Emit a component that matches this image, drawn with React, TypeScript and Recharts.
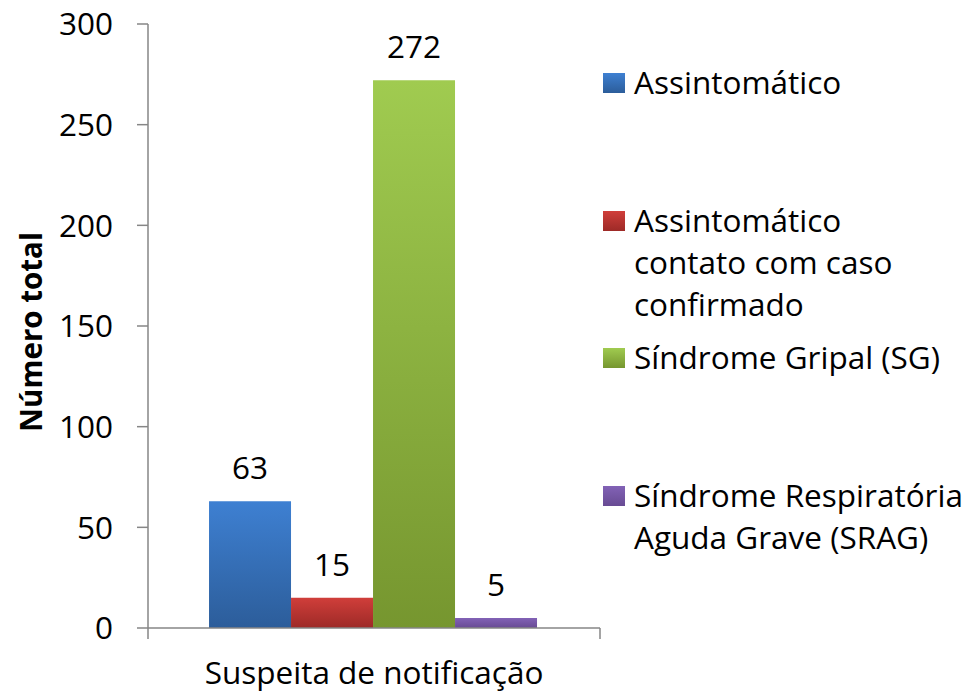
import React from 'react';
import { BarChart, Bar, XAxis, YAxis, Legend, LabelList } from 'recharts';

const categories = ['Suspeita de notificação'];
const assintomatico = [63];
const assintomaticoContato = [15];
const sindromeGripal = [272];
const srag = [5];
const seriesNames = [
  'Assintomático',
  'Assintomático contato com caso confirmado',
  'Síndrome Gripal (SG)',
  'Síndrome Respiratória Aguda Grave (SRAG)',
];
const legendLines = [
  ['Assintomático'],
  ['Assintomático', 'contato com caso', 'confirmado'],
  ['Síndrome Gripal (SG)'],
  ['Síndrome Respiratória', 'Aguda Grave (SRAG)'],
];
const yTicks = [0, 50, 100, 150, 200, 250, 300];
const yTitle = 'Número total';

const data = categories.map((c, i) => ({
  category: c,
  a: assintomatico[i],
  b: assintomaticoContato[i],
  c: sindromeGripal[i],
  d: srag[i],
}));

const gradients = [
  { id: 'gBlue', top: '#3e80d2', bottom: '#2c5d9a' },
  { id: 'gRed', top: '#d03e3a', bottom: '#9d2a27' },
  { id: 'gGreen', top: '#a0cb50', bottom: '#76962f' },
  { id: 'gPurple', top: '#8262b6', bottom: '#684b93' },
];
const keys = ['a', 'b', 'c', 'd'];

const FONT = "'Open Sans', sans-serif";
const FS = 31.5;
const AXIS = '#868686';
const X_TICK_MARGIN = 34;
const X_TICK_LEN = 11;

const YTitle = (props: any) => {
  const vb = props.viewBox || {};
  const cx = vb.x + 30;
  const cy = vb.y + vb.height / 2 + 6;
  return (
    <text
      x={cx}
      y={cy}
      transform={`rotate(-90 ${cx} ${cy})`}
      textAnchor="middle"
      dominantBaseline="central"
      fontFamily={FONT}
      fontWeight={700}
      fontSize={29.5}
      fill="#000"
    >
      {yTitle}
    </text>
  );
};

const CatTick = (props: any) => {
  const { x, y, payload } = props;
  const half = payload && payload.offset ? payload.offset : 0;
  const axisY = y - X_TICK_MARGIN;
  return (
    <g>
      <line x1={x - half} x2={x - half} y1={axisY} y2={axisY + X_TICK_LEN} stroke={AXIS} strokeWidth={1.5} />
      <line x1={x + half} x2={x + half} y1={axisY} y2={axisY + X_TICK_LEN} stroke={AXIS} strokeWidth={1.5} />
      <text x={x} y={y} dy="0.71em" textAnchor="middle" fill="#000" fontSize={FS} fontFamily={FONT}>
        {payload.value}
      </text>
    </g>
  );
};

const LegendContent = () => (
  <div style={{ fontFamily: FONT, fontSize: FS, color: '#000' }}>
    {legendLines.map((lines, i) => (
      <div key={i} style={{ display: 'flex', height: 137.7, alignItems: 'flex-start' }}>
        <div
          style={{
            width: 22,
            height: 20,
            marginTop: 12,
            marginRight: 9,
            flex: '0 0 auto',
            background: `linear-gradient(${gradients[i].top}, ${gradients[i].bottom})`,
          }}
        />
        <div style={{ lineHeight: '42px', whiteSpace: 'nowrap' }}>
          {lines.map((l, j) => (
            <div key={j}>{l}</div>
          ))}
        </div>
      </div>
    ))}
  </div>
);

export default function App() {
  return (
    <div style={{ position: 'absolute', left: 0, top: 0, width: 973, height: 692, background: '#fff', fontFamily: FONT }}>
      <BarChart
        width={973}
        height={692}
        data={data}
        margin={{ top: 24, right: 373, bottom: 0, left: 0 }}
        barCategoryGap="13.5%"
        barGap={0}
      >
        <defs>
          {gradients.map((g) => (
            <linearGradient key={g.id} id={g.id} x1="0" y1="0" x2="0" y2="1">
              <stop offset="0%" stopColor={g.top} />
              <stop offset="100%" stopColor={g.bottom} />
            </linearGradient>
          ))}
        </defs>
        <XAxis
          dataKey="category"
          height={64}
          axisLine={{ stroke: AXIS, strokeWidth: 1.5 }}
          tickLine={false}
          tickSize={0}
          tickMargin={X_TICK_MARGIN}
          tick={<CatTick />}
        />
        <YAxis
          width={148}
          domain={[0, 300]}
          ticks={yTicks}
          tickSize={11}
          tickMargin={24}
          axisLine={{ stroke: AXIS, strokeWidth: 1.5 }}
          tickLine={{ stroke: AXIS, strokeWidth: 1.5 }}
          tick={{ fill: '#000', fontSize: FS, fontFamily: FONT }}
          label={<YTitle />}
        />
        <Legend
          layout="horizontal"
          verticalAlign="middle"
          align="center"
          wrapperStyle={{ left: 603, top: 61, width: 370 }}
          content={<LegendContent />}
        />
        {keys.map((k, i) => (
          <Bar key={k} dataKey={k} name={seriesNames[i]} fill={`url(#${gradients[i].id})`} isAnimationActive={false}>
            <LabelList dataKey={k} position="top" offset={22} fill="#000" fontSize={FS} fontFamily={FONT} />
          </Bar>
        ))}
      </BarChart>
    </div>
  );
}
